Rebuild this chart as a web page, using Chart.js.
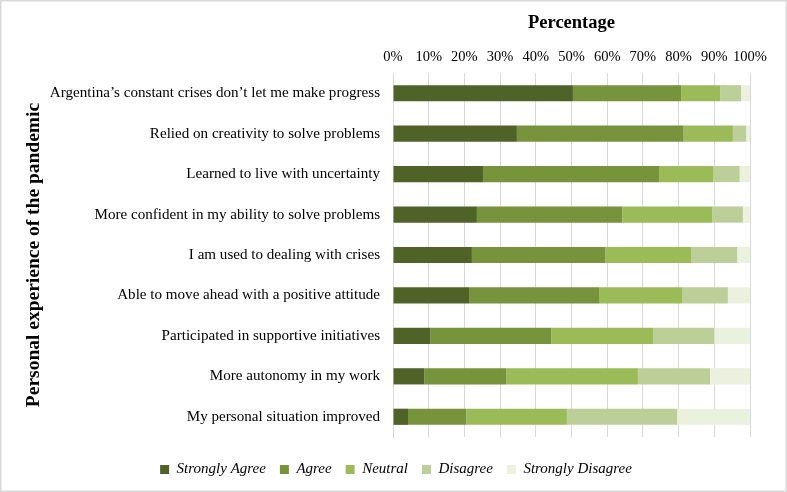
<!DOCTYPE html>
<html>
<head>
<meta charset="utf-8">
<script src="https://cdn.jsdelivr.net/npm/chart.js@4.4.1/dist/chart.umd.min.js"></script>
<style>
  html, body { margin: 0; padding: 0; background: #fff; }
  #wrap { position: relative; width: 787px; height: 492px; }
</style>
</head>
<body>
<div id="wrap"><canvas id="likertChart" width="787" height="492"></canvas></div>
<script>
// Survey statements, top to bottom
const categories = [
  "Argentina\u2019s constant crises don\u2019t let me make progress",
  "Relied on creativity to solve problems",
  "Learned to live with uncertainty",
  "More confident in my ability to solve problems",
  "I am used to dealing with crises",
  "Able to move ahead with a positive attitude",
  "Participated in supportive initiatives",
  "More autonomy in my work",
  "My personal situation improved",
];

// Share of answers per statement (%)
const stronglyAgree = [50.4, 34.7, 25.2, 23.5, 22.1, 21.3, 10.5, 8.8, 4.2];
const agree = [30.3, 46.7, 49.3, 40.7, 37.4, 36.4, 33.8, 22.9, 16.3];
const neutral = [11.0, 13.8, 15.3, 25.2, 24.1, 23.4, 28.6, 36.9, 28.2];
const disagree = [5.8, 3.7, 7.3, 8.6, 12.8, 12.7, 17.1, 20.2, 30.9];
const stronglyDisagree = [2.5, 1.1, 2.9, 2.0, 3.6, 6.2, 10.0, 11.2, 20.4];

const seriesNames = ["Strongly Agree", "Agree", "Neutral", "Disagree", "Strongly Disagree"];
const seriesColors = ["#4f6228", "#77933c", "#9bbb59", "#bccf98", "#ebf1de"];

const FONT = "'Liberation Serif', 'Times New Roman', serif";

// thin grey frame round the whole picture
const framePlugin = {
  id: "frame",
  afterLayout: function (chart) {
    // legend in the original sits centred on the page, not on the padded area
    if (chart.legend) {
      chart.legend.left += 21;
      chart.legend.right += 21;
    }
  },
  afterDraw: function (chart) {
    const ctx = chart.ctx;
    ctx.save();
    ctx.strokeStyle = "#d9d9d9";
    ctx.lineWidth = 1.5;
    ctx.strokeRect(0.75, 0.75, chart.width - 1.5, chart.height - 1.5);
    ctx.restore();
  },
};

const allSeries = [stronglyAgree, agree, neutral, disagree, stronglyDisagree];

new Chart(document.getElementById("likertChart"), {
  type: "bar",
  data: {
    labels: categories,
    datasets: allSeries.map(function (values, i) {
      return {
        label: seriesNames[i],
        data: values,
        backgroundColor: seriesColors[i],
        borderWidth: 0,
        categoryPercentage: 1.0,
        barPercentage: 0.4,
      };
    }),
  },
  plugins: [framePlugin],
  options: {
    indexAxis: "y",
    responsive: false,
    animation: false,
    layout: { padding: { left: 0, right: 37, top: 12, bottom: 5 } },
    plugins: {
      tooltip: { enabled: false },
      legend: {
        position: "bottom",
        // empty title only pushes the legend row down a little
        title: {
          display: true,
          text: "",
          font: { size: 2, lineHeight: 1 },
          padding: { top: 9, bottom: 0 },
        },
        labels: {
          boxWidth: 9,
          boxHeight: 9,
          padding: 14,
          color: "#000",
          font: { family: FONT, size: 15, style: "italic" },
        },
      },
    },
    scales: {
      x: {
        position: "top",
        stacked: true,
        min: 0,
        max: 100,
        ticks: {
          stepSize: 10,
          padding: 7,
          maxRotation: 0,
          minRotation: 0,
          autoSkip: false,
          color: "#000",
          font: { family: FONT, size: 14.5 },
          callback: function (v) { return v + "%"; },
        },
        grid: { color: "#d9d9d9", lineWidth: 1, drawTicks: false },
        border: { display: false },
        title: {
          display: true,
          text: "Percentage",
          color: "#000",
          font: { family: FONT, size: 18.5, weight: "bold" },
          padding: { top: 0, bottom: 2 },
        },
        afterFit: function (scale) { scale.height = 61; },
      },
      y: {
        stacked: true,
        ticks: {
          padding: 13,
          color: "#000",
          font: { family: FONT, size: 15.1 },
        },
        grid: { display: false, drawTicks: false },
        border: { display: true, color: "#d9d9d9", width: 1 },
        title: {
          display: true,
          text: "Personal experience of the pandemic",
          color: "#000",
          font: { family: FONT, size: 19.5, weight: "bold" },
          padding: { top: 22, bottom: 0 },
        },
        afterFit: function (scale) { scale.width = 393; },
      },
    },
  },
});
</script>
</body>
</html>
